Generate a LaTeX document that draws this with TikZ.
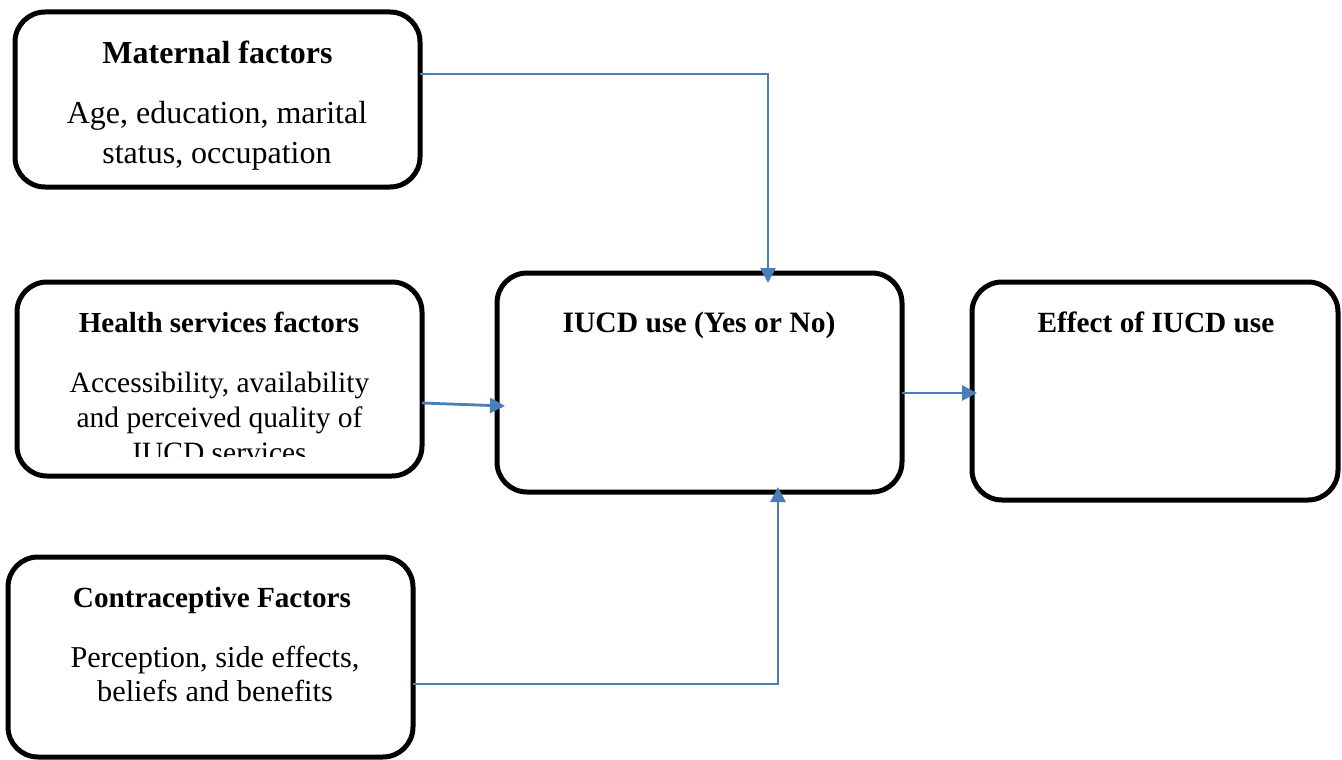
\documentclass[tikz,border=0pt]{standalone}
\usepackage{fontspec}
\setmainfont{Liberation Serif}
\usetikzlibrary{arrows.meta}
\definecolor{arrblue}{RGB}{74,126,187}
\tikzset{
  box/.style={draw=black, line width=5pt, rounded corners=30pt, outer sep=0pt, inner sep=0pt},
  arr/.style={draw=arrblue, line width=2.8pt, -{Triangle[length=15pt,width=15pt]}},
  ttl/.style={font=\fontsize{29.5}{34}\selectfont\bfseries, anchor=base, inner sep=0pt},
  bodytxt/.style={font=\fontsize{30}{34}\selectfont, anchor=base, inner sep=0pt, align=center}
}
\begin{document}
\begin{tikzpicture}[x=1pt,y=-1pt]
\useasboundingbox (0,0) rectangle (1342,760);
% boxes
\node[box, minimum width=405pt, minimum height=175pt] (mat) at (217.5,99.5) {};
\node[box, minimum width=405pt, minimum height=194pt] (hea) at (219.5,379) {};
\node[box, minimum width=405pt, minimum height=200pt] (con) at (210.5,657) {};
\node[box, minimum width=405pt, minimum height=219pt] (iucd) at (699.5,382.5) {};
\node[box, minimum width=366pt, minimum height=218pt] (eff) at (1155,391) {};
% texts
\node[ttl, font=\fontsize{32}{36}\selectfont\bfseries] (matt) at (217.5,64) {Maternal factors};
\node[bodytxt, font=\fontsize{32}{39.5}\selectfont] (matb) at (217,163) {Age, education, marital\\status, occupation};
\node[ttl, font=\fontsize{29}{34}\selectfont\bfseries] (heat) at (219,332) {Health services factors};
\begin{scope}
\clip (20,285) rectangle (420,456);
\node[bodytxt, font=\fontsize{29.5}{35}\selectfont] (heab) at (219.5,462) {Accessibility, availability\\and perceived quality of\\IUCD services};
\end{scope}
\node[ttl, font=\fontsize{29.2}{34}\selectfont\bfseries] (cont) at (212,607) {Contraceptive Factors};
\node[bodytxt, font=\fontsize{30.3}{34}\selectfont] (conb) at (215,701) {Perception, side effects,\\beliefs and benefits};
\node[ttl, font=\fontsize{29.6}{34}\selectfont\bfseries] (iucdt) at (699,332) {IUCD use (Yes or No)};
\node[ttl, font=\fontsize{29.3}{34}\selectfont\bfseries] (efft) at (1156,332) {Effect of IUCD use};
% connectors
\draw[arr] ([yshift=25.5pt]mat.east) -| ([xshift=68.5pt,yshift=-10pt]iucd.north);
\draw[arr] ([yshift=-24pt]hea.east) -- ([xshift=8pt,yshift=-23.5pt]iucd.west);
\draw[arr] ([yshift=-10.5pt]iucd.east) -- ([xshift=5pt,yshift=-2pt]eff.west);
\draw[arr] ([yshift=-27pt]con.east) -| ([xshift=78.5pt,yshift=5pt]iucd.south);
\end{tikzpicture}
\end{document}
